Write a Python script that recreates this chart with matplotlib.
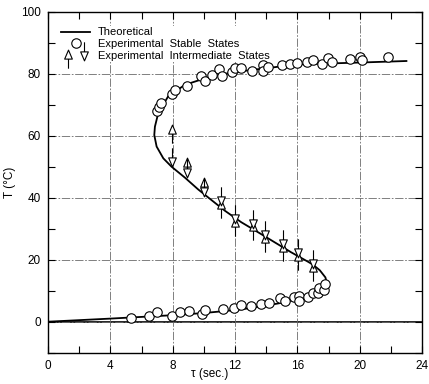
import numpy as np
import matplotlib
matplotlib.use('Agg')
import matplotlib.pyplot as plt
from matplotlib.path import Path
from matplotlib.legend_handler import HandlerTuple

plt.rcParams['font.family'] = ['Liberation Sans', 'DejaVu Sans']

# theoretical steady-state curve
tau_th = [0, 4, 8, 10, 12, 13, 14, 15, 16, 16.8, 17.5, 17.75, 17.88, 17.8, 17.44, 17.0, 16.7,
          15.6, 14.55, 13.5, 12.4, 11.35, 10.5, 9.63, 8.78, 7.93, 7.4, 6.97, 6.82, 6.86,
          7.07, 7.71, 8.78, 10.06, 11.78, 13.06, 16.0, 20.0, 23.0]
T_th = [0, 1.0, 2.1, 2.8, 3.75, 4.4, 5.2, 6.1, 7.3, 8.6, 10.2, 11.5, 12.8, 14.3, 16.6, 18.4, 19.3,
        22.4, 25.6, 28.8, 32.1, 35.8, 39.2, 42.7, 46.5, 50.0, 52.7, 56.5, 60.2, 62.9,
        67.2, 72.7, 76.4, 78.5, 80.4, 81.2, 83.0, 83.6, 84.1]

# experimental stable states, upper branch
tau_up = [6.97, 7.13, 7.26, 7.97, 8.18, 8.93, 9.8, 10.06, 10.55, 10.96, 11.17, 11.8, 12.03, 12.4,
          13.1, 13.8, 13.8, 14.1, 15.04, 15.56, 16.0, 16.6, 17.0, 17.6, 17.97, 18.2, 19.4,
          20.0, 20.15, 21.8]
T_up = [68.0, 69.4, 70.4, 73.3, 74.9, 76.0, 79.4, 77.8, 79.5, 81.4, 79.4, 80.6, 81.7, 82.0,
        80.9, 82.8, 81.0, 82.3, 82.8, 83.2, 83.3, 83.7, 84.3, 83.0, 85.2, 83.9, 84.7,
        85.5, 84.4, 85.5]

# experimental stable states, lower branch
tau_lo = [5.32, 6.5, 6.97, 7.93, 8.48, 9.04, 9.9, 10.1, 11.2, 11.94, 12.4, 13.0, 13.7, 14.2,
          14.9, 15.2, 15.8, 16.1, 16.1, 16.7, 17.0, 17.3, 17.4, 17.7, 17.8]
T_lo = [1.1, 1.8, 3.2, 1.8, 3.0, 3.4, 2.4, 3.75, 4.0, 4.3, 5.35, 5.0, 5.7, 6.1,
        7.7, 6.7, 8.0, 8.2, 6.7, 8.0, 9.4, 9.1, 11.0, 10.2, 12.3]

# experimental intermediate states (approach from below / above)
tau_int = [7.97, 8.95, 10.0, 11.09, 12.0, 13.16, 13.95, 15.08, 16.05, 17.0]
T_int_up = [62.0, 51.2, 44.9, 37.7, 32.0, 30.4, 26.8, 23.8, 20.8, 17.4]
T_int_dn = [51.8, 48.3, 42.2, 39.3, 33.6, 32.0, 28.4, 25.4, 22.4, 19.0]

xticks = [0, 4, 8, 12, 16, 20, 24]
yticks = [0, 20, 40, 60, 80, 100]

# arrow markers: triangle with a stem
up_verts = [(-0.32, -0.3), (0.32, -0.3), (0, 0.45), (-0.32, -0.3), (0, -0.3), (0, -1.1)]
up_codes = [Path.MOVETO, Path.LINETO, Path.LINETO, Path.CLOSEPOLY, Path.MOVETO, Path.LINETO]
up_arrow = Path(up_verts, up_codes)
dn_arrow = Path([(x, -y) for x, y in up_verts], up_codes)

fig = plt.figure(figsize=(4.29, 3.84), dpi=100)
ax = fig.add_axes([0.1119, 0.0815, 0.8718, 0.888])

ax.grid(True, which='major', color='#6a6a6a', lw=0.6, dashes=(10, 2, 2, 2))
ax.axhline(0, color='black', lw=1.2, zorder=1)

th, = ax.plot(tau_th, T_th, color='black', lw=1.3, zorder=2, label='Theoretical')
st, = ax.plot(tau_up, T_up, 'o', ms=6.8, mfc='white', mec='black', mew=0.8, zorder=3,
              label='Experimental  Stable  States')
ax.plot(tau_lo, T_lo, 'o', ms=6.8, mfc='white', mec='black', mew=0.8, zorder=3)
ia, = ax.plot(tau_int, T_int_up, ls='none', marker=up_arrow, ms=19, mfc='white', mec='black',
              mew=0.8, zorder=4)
ib, = ax.plot(tau_int, T_int_dn, ls='none', marker=dn_arrow, ms=19, mfc='white', mec='black',
              mew=0.8, zorder=4)

ax.set_xlim(0, 24)
ax.set_ylim(-10, 100)
ax.set_xticks(xticks)
ax.set_yticks(yticks)
ax.set_xticks(np.arange(2, 24, 4), minor=True)
ax.set_yticks(np.arange(-10, 100, 20), minor=True)
ax.tick_params(which='both', direction='in', top=True, right=True, labelsize=8.5, width=0.8,
               length=5)
ax.tick_params(which='major', pad=5)
for s in ax.spines.values():
    s.set_linewidth(1.0)

ax.set_ylabel('T (°C)', fontsize=8.5, labelpad=4)
ax.set_xlabel('τ (sec.)', fontsize=8.5)
ax.xaxis.set_label_coords(0.433, -0.045)

leg = ax.legend([th, st, (ia, ib)],
                ['Theoretical', 'Experimental  Stable  States', 'Experimental  Intermediate  States'],
                handler_map={tuple: HandlerTuple(ndivide=None, pad=0.3)},
                loc='upper left', bbox_to_anchor=(0.033, 0.957), frameon=True, fontsize=8,
                handlelength=2.6, handletextpad=0.7, labelspacing=0.15, borderpad=0.1,
                borderaxespad=0, fancybox=False, framealpha=1)
leg.get_frame().set_edgecolor('none')
leg.get_frame().set_facecolor('white')
leg.set_zorder(2.5)

fig.savefig('out.png', dpi=100)
